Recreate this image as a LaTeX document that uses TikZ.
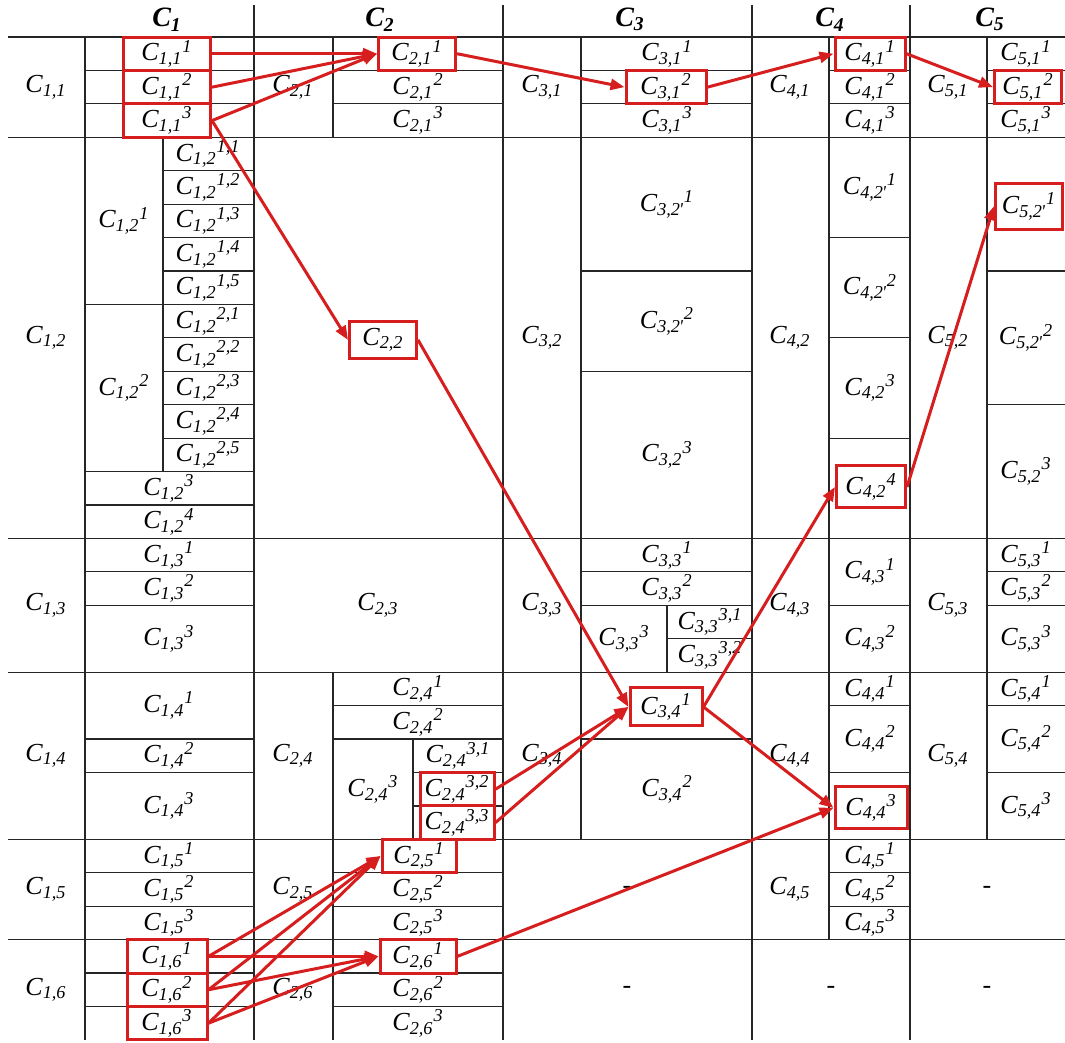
\documentclass[tikz,border=0pt]{standalone}
\usepackage{fontspec}
\setmainfont{Liberation Serif}
\usetikzlibrary{arrows.meta}
\definecolor{rd}{RGB}{214,30,30}
\newcommand{\Cl}[1]{C\textsubscript{#1}}
\newcommand{\Cs}[2]{C\textsubscript{#1}\textsuperscript{#2}}

\begin{document}
\begin{tikzpicture}[
    x=0.5pt, y=-16.715pt,
    cell/.style={inner sep=0pt, font=\itshape\fontsize{13}{15}\selectfont},
    hl/.style={cell, draw=rd, line width=1.5pt, minimum width=#1, minimum height=16.7pt},
    hl/.default=37pt,
    hd/.style={font=\bfseries\itshape\fontsize{14}{16}\selectfont},
    arr/.style={-{Triangle[length=7pt,width=5.5pt]}, draw=rd, line width=1.5pt},
    grid/.style={line width=0.6pt, black!85},
]
\useasboundingbox (0,-1.107) rectangle (1065,30.09);
% rules
\draw[grid] (8,0) -- (1065,0);
\foreach \r in {3,15,19,24,27} \draw[grid] (8,\r) -- (1065,\r);
\foreach \x in {254,503,752,910} \draw[grid] (\x,-0.96) -- (\x,30);
\draw[grid] (85,0) -- (85,30);
\foreach \r in {1,2,8,13,14,16,17,21,22,25,26,28,29} \draw[grid] (85,\r) -- (254,\r);
\foreach \r in {4,5,6,7,9,10,11,12} \draw[grid] (163,\r) -- (254,\r);
\draw[grid] (163,3) -- (163,13);
\draw[grid] (333,0) -- (333,3) (333,19) -- (333,30) (413,21) -- (413,24);
\foreach \r in {1,2,20,21,25,26,28,29} \draw[grid] (333,\r) -- (503,\r);
\foreach \r in {22,23} \draw[grid] (413,\r) -- (503,\r);
\draw[grid] (581,0) -- (581,24) (667,17) -- (667,19) (667,18) -- (752,18);
\foreach \r in {1,2,7,10,16,17,21} \draw[grid] (581,\r) -- (752,\r);
\draw[grid] (829,0) -- (829,27);
\foreach \r in {1,2,6,9,12,17,20,22,25,26} \draw[grid] (829,\r) -- (910,\r);
\draw[grid] (987,0) -- (987,24);
\foreach \r in {1,2,7,11,16,17,20,22} \draw[grid] (987,\r) -- (1065,\r);

% header
\node[hd] (h1) at (167,-0.52) {C\textsubscript{1}};
\node[hd] (h2) at (380,-0.52) {C\textsubscript{2}};
\node[hd] (h3) at (630,-0.52) {C\textsubscript{3}};
\node[hd] (h4) at (830,-0.52) {C\textsubscript{4}};
\node[hd] (h5) at (990,-0.52) {C\textsubscript{5}};

% C1
\foreach \j/\r in {1/1.5,2/9,3/17,4/21.5,5/25.5,6/28.5} \node[cell] (c1\j) at (46,\r) {\Cl{1,\j}};
\foreach \k in {1,2,3} \node[hl=43.5pt] (c11k\k) at (167,\k-0.5) {\Cs{1,1}{\k}};
\node[cell] (c12k1) at (124,5.5) {\Cs{1,2}{1}};
\node[cell] (c12k2) at (124,10.5) {\Cs{1,2}{2}};
\foreach \k in {1,...,5} \node[cell] (c12k1\k) at (208,\k+2.5) {\Cs{1,2}{1,\k}};
\foreach \k in {1,...,5} \node[cell] (c12k2\k) at (208,\k+7.5) {\Cs{1,2}{2,\k}};
\node[cell] (c12k3) at (169,13.5) {\Cs{1,2}{3}};
\node[cell] (c12k4) at (169,14.5) {\Cs{1,2}{4}};
\foreach \k/\r in {1/15.5,2/16.5,3/18} \node[cell] (c13k\k) at (169,\r) {\Cs{1,3}{\k}};
\foreach \k/\r in {1/20,2/21.5,3/23} \node[cell] (c14k\k) at (169,\r) {\Cs{1,4}{\k}};
\foreach \k in {1,2,3} \node[cell] (c15k\k) at (169,\k+23.5) {\Cs{1,5}{\k}};
\foreach \k in {1,2,3} \node[hl=40pt] (c16k\k) at (167,\k+26.5) {\Cs{1,6}{\k}};

% C2
\foreach \j/\r in {1/1.5,4/21.5,5/25.5,6/28.5} \node[cell] (c2\j) at (293,\r) {\Cl{2,\j}};
\node[hl=38.5pt] (c21k1) at (417,0.5) {\Cs{2,1}{1}};
\node[cell] (c21k2) at (418,1.5) {\Cs{2,1}{2}};
\node[cell] (c21k3) at (418,2.5) {\Cs{2,1}{3}};
\node[hl=33.5pt, minimum height=18.5pt] (c22) at (383,9.06) {\Cl{2,2}};
\node[cell] (c23) at (378,17) {\Cl{2,3}};
\node[cell] (c24k1) at (418,19.5) {\Cs{2,4}{1}};
\node[cell] (c24k2) at (418,20.5) {\Cs{2,4}{2}};
\node[cell] (c24k3) at (373,22.5) {\Cs{2,4}{3}};
\node[cell] (c24k31) at (458,21.5) {\Cs{2,4}{3,1}};
\node[hl=37pt] (c24k32) at (457,22.5) {\Cs{2,4}{3,2}};
\node[hl=37pt] (c24k33) at (457,23.5) {\Cs{2,4}{3,3}};
\node[hl=37pt] (c25k1) at (419,24.5) {\Cs{2,5}{1}};
\node[cell] (c25k2) at (418,25.5) {\Cs{2,5}{2}};
\node[cell] (c25k3) at (418,26.5) {\Cs{2,5}{3}};
\node[hl=38pt] (c26k1) at (418,27.5) {\Cs{2,6}{1}};
\node[cell] (c26k2) at (418,28.5) {\Cs{2,6}{2}};
\node[cell] (c26k3) at (418,29.5) {\Cs{2,6}{3}};

% C3
\foreach \j/\r in {1/1.5,2/9,3/17,4/21.5} \node[cell] (c3\j) at (542,\r) {\Cl{3,\j}};
\node[cell] (c31k1) at (667,0.5) {\Cs{3,1}{1}};
\node[hl=40pt] (c31k2) at (666,1.5) {\Cs{3,1}{2}};
\node[cell] (c31k3) at (667,2.5) {\Cs{3,1}{3}};
\node[cell] (c32k1) at (667,5) {\Cs{3,2\kern-.05em\textquotesingle}{1}};
\node[cell] (c32k2) at (667,8.5) {\Cs{3,2\kern-.05em\textquotesingle}{2}};
\node[cell] (c32k3) at (667,12.5) {\Cs{3,2}{3}};
\node[cell] (c33k1) at (667,15.5) {\Cs{3,3}{1}};
\node[cell] (c33k2) at (667,16.5) {\Cs{3,3}{2}};
\node[cell] (c33k3) at (624,18) {\Cs{3,3}{3}};
\node[cell] (c33k31) at (710,17.5) {\Cs{3,3}{3,1}};
\node[cell] (c33k32) at (710,18.5) {\Cs{3,3}{3,2}};
\node[hl=36pt, minimum height=19pt] (c34k1) at (666,20.04) {\Cs{3,4}{1}};
\node[cell] (c34k2) at (667,22.5) {\Cs{3,4}{2}};
\node[cell] (d35) at (627,25.5) {\upshape -};
\node[cell] (d36) at (627,28.5) {\upshape -};

% C4
\foreach \j/\r in {1/1.5,2/9,3/17,4/21.5,5/25.5} \node[cell] (c4\j) at (790,\r) {\Cl{4,\j}};
\node[hl=35pt] (c41k1) at (870,0.5) {\Cs{4,1}{1}};
\node[cell] (c41k2) at (870,1.5) {\Cs{4,1}{2}};
\node[cell] (c41k3) at (870,2.5) {\Cs{4,1}{3}};
\node[cell] (c42k1) at (870,4.5) {\Cs{4,2\kern-.05em\textquotesingle}{1}};
\node[cell] (c42k2) at (870,7.5) {\Cs{4,2\kern-.05em\textquotesingle}{2}};
\node[cell] (c42k3) at (870,10.5) {\Cs{4,2}{3}};
\node[hl=34.5pt, minimum height=21pt] (c42k4) at (871,13.46) {\Cs{4,2}{4}};
\node[cell] (c43k1) at (870,16) {\Cs{4,3}{1}};
\node[cell] (c43k2) at (870,18) {\Cs{4,3}{2}};
\node[cell] (c44k1) at (870,19.5) {\Cs{4,4}{1}};
\node[cell] (c44k2) at (870,21) {\Cs{4,4}{2}};
\node[hl=36pt, minimum height=21pt] (c44k3) at (871,23.06) {\Cs{4,4}{3}};
\foreach \k in {1,2,3} \node[cell] (c45k\k) at (870,\k+23.5) {\Cs{4,5}{\k}};
\node[cell] (d46) at (831,28.5) {\upshape -};

% C5
\foreach \j/\r in {1/1.5,2/9,3/17,4/21.5} \node[cell] (c5\j) at (948,\r) {\Cl{5,\j}};
\node[cell] (c51k1) at (1026,0.5) {\Cs{5,1}{1}};
\node[hl=33.5pt] (c51k2) at (1028,1.5) {\Cs{5,1}{2}};
\node[cell] (c51k3) at (1026,2.5) {\Cs{5,1}{3}};
\node[hl=33.5pt, minimum height=23pt] (c52k1) at (1029,5.06) {\Cs{5,2\kern-.05em\textquotesingle}{1}};
\node[cell] (c52k2) at (1026,9) {\Cs{5,2\kern-.05em\textquotesingle}{2}};
\node[cell] (c52k3) at (1026,13) {\Cs{5,2}{3}};
\foreach \k/\r in {1/15.5,2/16.5,3/18} \node[cell] (c53k\k) at (1026,\r) {\Cs{5,3}{\k}};
\foreach \k/\r in {1/19.5,2/21,3/23} \node[cell] (c54k\k) at (1026,\r) {\Cs{5,4}{\k}};
\node[cell] (d55) at (987,25.5) {\upshape -};
\node[cell] (d56) at (987,28.5) {\upshape -};

% paths
\foreach \k in {1,2,3} \draw[arr] (c11k\k.east) -- (c21k1.west);
\draw[arr] (c11k3.east) -- (c22.west);
\draw[arr] (c21k1.east) -- (c31k2.west);
\draw[arr] (c31k2.east) -- (c41k1.west);
\draw[arr] (c41k1.east) -- (c51k2.west);
\draw[arr] (c22.east) -- (c34k1.west);
\draw[arr] (c24k32.east) -- (c34k1.west);
\draw[arr] (c24k33.east) -- (c34k1.west);
\draw[arr] (c34k1.east) -- (c42k4.west);
\draw[arr] (c34k1.east) -- (c44k3.west);
\draw[arr] (c42k4.east) -- (c52k1.west);
\foreach \k in {1,2,3} {
  \draw[arr] (c16k\k.east) -- (c25k1.west);
  \draw[arr] (c16k\k.east) -- (c26k1.west);
}
\draw[arr] (c26k1.east) -- (c44k3.west);
\end{tikzpicture}
\end{document}
